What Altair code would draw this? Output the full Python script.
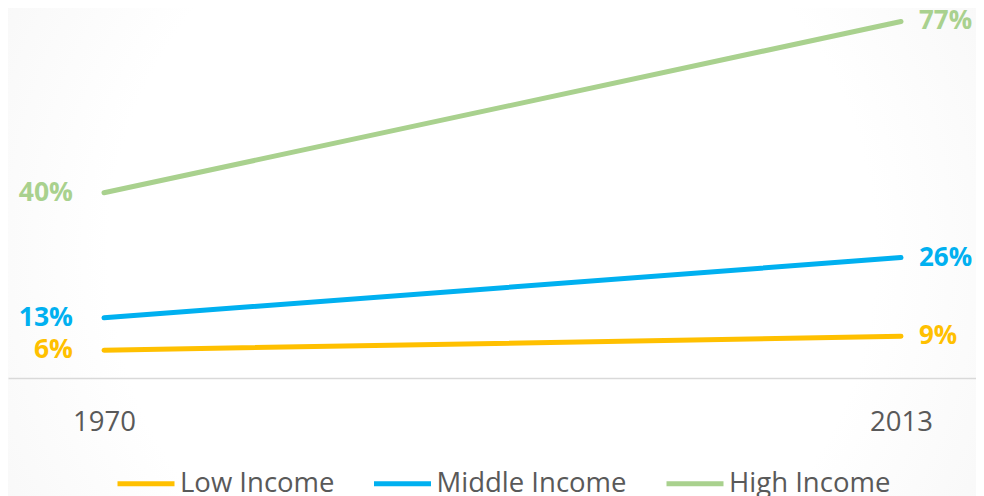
import altair as alt
import pandas as pd

years = [1970, 2013]
series = ["Low Income", "Middle Income", "High Income"]
low = [6, 9]
middle = [13, 26]
high = [40, 77]
colors = ["#FFC000", "#00B0F0", "#A9D18E"]

rows = []
for name, vals in zip(series, [low, middle, high]):
    for yr, v in zip(years, vals):
        rows.append({"year": yr, "value": v, "series": name, "label": f"{v}%"})
df = pd.DataFrame(rows)

W, H = 968, 370
FONT = "Open Sans"
GRAY = "#595959"

x = alt.X(
    "year:Q",
    scale=alt.Scale(domain=[1964.821, 2017.046], nice=False, zero=False),
    axis=alt.Axis(
        values=years, format="d", title=None, grid=False, ticks=False, tickSize=0,
        labelPadding=30, labelFontSize=27.5, labelColor=GRAY, labelFont=FONT,
        domainColor="#D9D9D9", domainWidth=1.5, labelFlush=False, zindex=1,
    ),
)
y = alt.Y("value:Q", scale=alt.Scale(domain=[0, 79.91], nice=False), axis=None)
cscale = alt.Scale(domain=series, range=colors)

bg = alt.Chart(pd.DataFrame({"a": [0]})).mark_rect(
    fill=alt.RadialGradient(
        gradient="radial",
        stops=[
            alt.GradientStop(offset=0, color="#ffffff"),
            alt.GradientStop(offset=0.55, color="#ffffff"),
            alt.GradientStop(offset=0.8, color="#f8f8f8"),
            alt.GradientStop(offset=1, color="#f0f0f0"),
        ],
        x1=0.5, y1=0.5, x2=0.5, y2=0.5, r1=0, r2=0.72,
    )
).encode(x=alt.value(0), x2=alt.value(W), y=alt.value(0), y2=alt.value(488))

lines = alt.Chart(df).mark_line(strokeWidth=5, strokeCap="round").encode(
    x=x, y=y,
    color=alt.Color(
        "series:N", scale=cscale,
        legend=alt.Legend(
            title=None, orient="none", legendX=107, legendY=444.5, direction="horizontal",
            symbolType="stroke", symbolSize=3249, symbolStrokeWidth=5,
            labelFontSize=27.5, labelFont=FONT, labelColor=GRAY, labelOffset=3,
            columnPadding=28.5, labelLimit=400, zindex=1,
        ),
    ),
)

left_labels = alt.Chart(df).transform_filter(alt.datum.year == 1970).mark_text(
    align="right", baseline="middle", dx=-31, fontSize=26.5, fontWeight="bold", font=FONT
).encode(x=x, y=y, text="label:N", color=alt.Color("series:N", scale=cscale, legend=None))

right_labels = alt.Chart(df).transform_filter(alt.datum.year == 2013).mark_text(
    align="left", baseline="middle", dx=18, fontSize=26, fontWeight="bold", font=FONT
).encode(x=x, y=y, text="label:N", color=alt.Color("series:N", scale=cscale, legend=None))

chart = alt.layer(bg, lines, left_labels, right_labels).properties(
    width=W, height=H,
    autosize=alt.AutoSizeParams(type="none"),
    padding={"left": 0, "top": 0, "right": 0, "bottom": 118},
    background="white",
).configure_view(stroke=None)

chart.save("out.html", embed_options={"renderer": "svg", "actions": False})
